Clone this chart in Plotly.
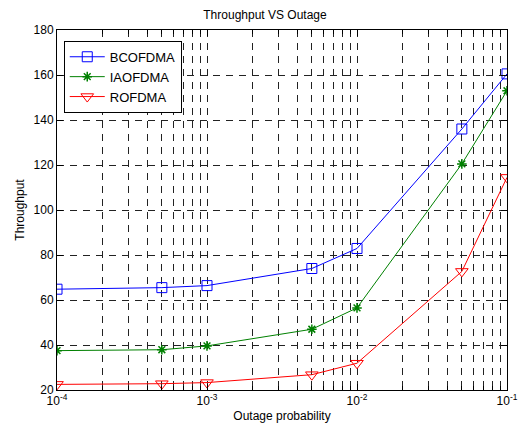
import plotly.graph_objects as go

outage = [1e-4, 5e-4, 1e-3, 5e-3, 1e-2, 5e-2, 1e-1]
bcofdma = [64.8, 65.5, 66.4, 74.0, 82.9, 136.0, 160.5]
iaofdma = [37.5, 37.9, 39.6, 47.0, 56.5, 120.5, 153.0]
rofdma = [22.5, 22.8, 23.3, 26.8, 31.9, 72.7, 114.5]

x_tickvals = [1e-4, 1e-3, 1e-2, 1e-1]
x_ticktext = ["10<sup>-4</sup>", "10<sup>-3</sup>", "10<sup>-2</sup>", "10<sup>-1</sup>"]
y_tickvals = [20, 40, 60, 80, 100, 120, 140, 160, 180]

font = "Liberation Sans, Arial, sans-serif"
dash = "7px,6px"
gridc = "#222222"

fig = go.Figure()
fig.add_trace(go.Scatter(x=outage, y=bcofdma, name="BCOFDMA", mode="lines+markers",
                         line=dict(color="#0000ff", width=1),
                         marker=dict(symbol="square-open", size=10, color="#0000ff", line=dict(width=1))))
fig.add_trace(go.Scatter(x=outage, y=iaofdma, name="IAOFDMA", mode="lines+markers",
                         line=dict(color="#008000", width=1),
                         marker=dict(symbol="asterisk-open", size=8, color="#008000", line=dict(width=1.5, color="#008000"))))
fig.add_trace(go.Scatter(x=outage, y=rofdma, name="ROFDMA", mode="lines+markers",
                         line=dict(color="#ff0000", width=1),
                         marker=dict(symbol="triangle-down-open", size=11, color="#ff0000", line=dict(width=1))))

fig.update_layout(
    width=530, height=434,
    margin=dict(l=57, r=14, t=30, b=44),
    paper_bgcolor="white", plot_bgcolor="white",
    font=dict(family=font, size=12, color="black"),
    title=dict(text="Throughput VS Outage", x=0.5, xanchor="center", y=0.975, yanchor="top",
               font=dict(size=12)),
    showlegend=True,
    legend=dict(x=0.015, y=0.97, xanchor="left", yanchor="top",
                bgcolor="white", bordercolor="black", borderwidth=1,
                font=dict(size=13), tracegroupgap=0, itemwidth=35),
)
fig.update_xaxes(
    type="log", range=[-4, -1],
    tickvals=x_tickvals, ticktext=x_ticktext,
    showline=True, linecolor="black", linewidth=1, mirror="ticks",
    ticks="inside", ticklen=6, tickcolor="black",
    showgrid=True, gridcolor=gridc, griddash=dash, gridwidth=1,
    minor=dict(ticks="inside", ticklen=4, tickcolor="black", showgrid=True,
               gridcolor=gridc, griddash=dash, gridwidth=1,
               tickvals=[m * 10 ** e for e in (-4, -3, -2) for m in range(2, 10)]),
    zeroline=False,
    title=dict(text="Outage probability", font=dict(size=12), standoff=4),
    tickfont=dict(size=12),
)
fig.update_yaxes(
    range=[20, 180], tickvals=y_tickvals,
    showline=True, linecolor="black", linewidth=1, mirror="ticks",
    ticks="inside", ticklen=6, tickcolor="black",
    showgrid=True, gridcolor=gridc, griddash=dash, gridwidth=1,
    zeroline=False,
    title=dict(text="Throughput", font=dict(size=12), standoff=6),
    tickfont=dict(size=12),
)

fig.write_html("out.html")
